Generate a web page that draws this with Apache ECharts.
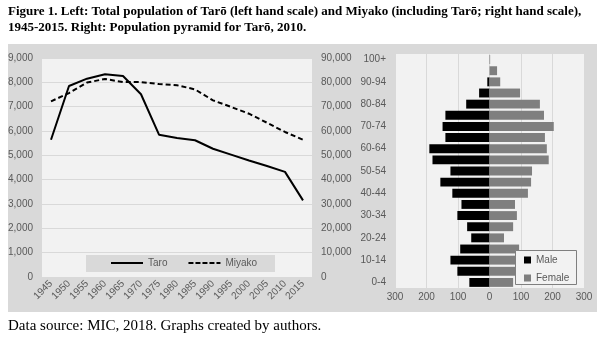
<!DOCTYPE html>
<html><head><meta charset="utf-8">
<script src="https://cdn.jsdelivr.net/npm/echarts@6/dist/echarts.min.js"></script>
<style>html,body{margin:0;padding:0;background:#fff}#c{width:610px;height:341px}</style>
</head><body><div id="c"></div>
<script>
var years = ['1945','1950','1955','1960','1965','1970','1975','1980','1985','1990','1995','2000','2005','2010','2015'];
var taro = [5640,7850,8150,8330,8260,7510,5850,5710,5620,5270,5030,4790,4560,4320,3150];
var miyako = [72200,75600,79900,81400,80100,80100,79300,78800,77100,72600,69900,67100,63400,59600,56400];
var ageGroups = ['0-4','5-9','10-14','15-19','20-24','25-29','30-34','35-39','40-44','45-49','50-54','55-59','60-64','65-69','70-74','75-79','80-84','85-89','90-94','95-99','100+'];
var male = [64,102,124,93,58,71,102,89,118,156,124,181,191,140,149,140,74,33,7,0,0];
var female = [75,86,90,94,46,75,87,81,122,132,135,188,182,176,204,173,160,97,34,24,2];

var sans = '"Liberation Sans",Arial,sans-serif';
var serif = '"Liberation Serif","Times New Roman",serif';
var lab = {color:'#595959', fontFamily:sans, fontSize:10};
function comma(v){return String(v).replace(/\B(?=(\d{3})+(?!\d))/g, ',');}

var solidIcon = 'path://M0,0h32v2h-32z';
var dashedIcon = 'path://M0,0h5v2h-5zM7,0h5v2h-5zM14,0h5v2h-5zM21,0h5v2h-5zM28,0h4v2h-4z';

var chart = echarts.init(document.getElementById('c'), null, {renderer:'canvas'});
chart.setOption({
  backgroundColor:'#fff',
  animation:false,
  graphic:[
    {type:'rect', z:-10, shape:{x:8,y:44,width:589,height:268}, style:{fill:'#d9d9d9'}},
    {type:'text', x:8, y:5, style:{text:'Figure 1. Left: Total population of Tarō (left hand scale) and Miyako (including Tarō; right hand scale),', font:'bold 13px '+serif, fill:'#000'}},
    {type:'text', x:8, y:21, style:{text:'1945-2015. Right: Population pyramid for Tarō, 2010.', font:'bold 13px '+serif, fill:'#000'}},
    {type:'text', x:8, y:319, style:{text:'Data source: MIC, 2018. Graphs created by authors.', font:'15px '+serif, fill:'#000'}},
    {type:'rect', z:5, shape:{x:86,y:255,width:189,height:17}, style:{fill:'#d9d9d9'}},
    {type:'rect', z:50, shape:{x:515.5,y:250.5,width:61,height:34}, style:{fill:'#f2f2f2', stroke:'#7f7f7f', lineWidth:1}}
  ],
  grid:[
    {left:42, right:298, top:58, bottom:64, show:true, backgroundColor:'#f2f2f2', borderWidth:0},
    {left:395, right:26, top:54, bottom:53, show:true, backgroundColor:'#f2f2f2', borderWidth:0}
  ],
  legend:[
    {data:[{name:'Taro', icon:solidIcon},{name:'Miyako', icon:dashedIcon}], left:111, top:258, padding:0,
     itemWidth:32, itemHeight:2, itemGap:21,
     textStyle:{color:'#595959', fontFamily:sans, fontSize:10}, z:20},
    {data:['Male','Female'], orient:'vertical', left:524, top:255, padding:0, itemWidth:7, itemHeight:7, itemGap:8,
     icon:'rect', textStyle:{color:'#595959', fontFamily:sans, fontSize:10}, z:60}
  ],
  xAxis:[
    {type:'category', gridIndex:0, data:years, boundaryGap:true,
     axisLine:{show:false}, axisTick:{show:false},
     axisLabel:Object.assign({rotate:45, margin:5, interval:0}, lab)},
    {type:'value', gridIndex:1, min:-300, max:300, interval:100,
     axisLine:{show:false}, axisTick:{show:false},
     splitLine:{show:true, lineStyle:{color:'#d9d9d9', width:1}},
     axisLabel:Object.assign({margin:4, formatter:function(v){return Math.abs(v);}}, lab)}
  ],
  yAxis:[
    {type:'value', gridIndex:0, min:0, max:9000, interval:1000,
     axisLine:{show:false}, axisTick:{show:false},
     splitLine:{lineStyle:{color:'#d9d9d9', width:1}},
     axisLabel:Object.assign({margin:9, formatter:comma}, lab)},
    {type:'value', gridIndex:0, position:'right', min:0, max:90000, interval:10000,
     axisLine:{show:false}, axisTick:{show:false}, splitLine:{show:false},
     axisLabel:Object.assign({margin:9, align:'left', formatter:comma}, lab)},
    {type:'category', gridIndex:1, data:ageGroups,
     axisLine:{show:false}, axisTick:{show:false},
     axisLabel:Object.assign({margin:9, interval:1}, lab)}
  ],
  series:[
    {name:'Taro', type:'line', xAxisIndex:0, yAxisIndex:0, data:taro, symbol:'none',
     lineStyle:{color:'#000', width:2, type:'solid'}, itemStyle:{color:'#000'}},
    {name:'Miyako', type:'line', xAxisIndex:0, yAxisIndex:1, data:miyako, symbol:'none',
     lineStyle:{color:'#000', width:2, type:[5,3]}, itemStyle:{color:'#000'}},
    {name:'Male', type:'bar', xAxisIndex:1, yAxisIndex:2, stack:'p', barCategoryGap:'20%',
     data:male.map(function(v){return -v;}), itemStyle:{color:'#000'}},
    {name:'Female', type:'bar', xAxisIndex:1, yAxisIndex:2, stack:'p', barCategoryGap:'20%',
     data:female, itemStyle:{color:'#7f7f7f'}}
  ]
});
</script></body></html>
